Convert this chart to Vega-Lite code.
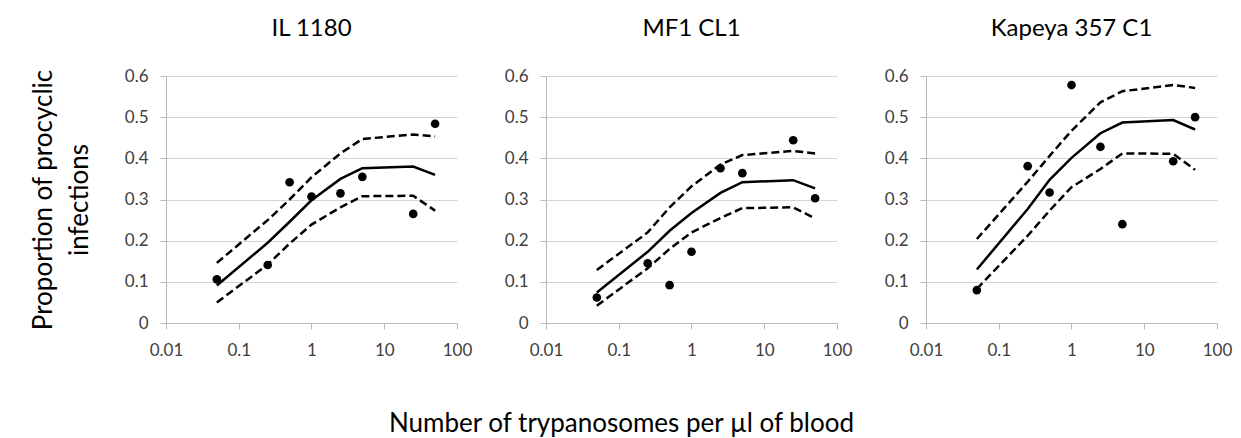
{
  "$schema": "https://vega.github.io/schema/vega-lite/v6.json",
  "padding": {"left": 30, "top": 17, "right": 10, "bottom": 2},
  "background": "white",
  "data": {
    "values": [
      {"strain": "IL 1180", "dose": 0.05, "fit": 0.091, "lo": 0.050, "hi": 0.146, "obs": 0.106},
      {"strain": "IL 1180", "dose": 0.25, "fit": 0.195, "lo": 0.142, "hi": 0.250, "obs": 0.141},
      {"strain": "IL 1180", "dose": 0.5, "fit": 0.246, "lo": 0.193, "hi": 0.300, "obs": 0.342},
      {"strain": "IL 1180", "dose": 1, "fit": 0.298, "lo": 0.239, "hi": 0.354, "obs": 0.307},
      {"strain": "IL 1180", "dose": 2.5, "fit": 0.350, "lo": 0.281, "hi": 0.412, "obs": 0.315},
      {"strain": "IL 1180", "dose": 5, "fit": 0.376, "lo": 0.308, "hi": 0.447, "obs": 0.355},
      {"strain": "IL 1180", "dose": 25, "fit": 0.380, "lo": 0.309, "hi": 0.458, "obs": 0.265},
      {"strain": "IL 1180", "dose": 50, "fit": 0.360, "lo": 0.273, "hi": 0.453, "obs": 0.484},
      {"strain": "MF1 CL1", "dose": 0.05, "fit": 0.074, "lo": 0.042, "hi": 0.129, "obs": 0.062},
      {"strain": "MF1 CL1", "dose": 0.25, "fit": 0.173, "lo": 0.133, "hi": 0.220, "obs": 0.145},
      {"strain": "MF1 CL1", "dose": 0.5, "fit": 0.224, "lo": 0.180, "hi": 0.281, "obs": 0.092},
      {"strain": "MF1 CL1", "dose": 1, "fit": 0.267, "lo": 0.220, "hi": 0.332, "obs": 0.173},
      {"strain": "MF1 CL1", "dose": 2.5, "fit": 0.316, "lo": 0.255, "hi": 0.385, "obs": 0.376},
      {"strain": "MF1 CL1", "dose": 5, "fit": 0.342, "lo": 0.279, "hi": 0.408, "obs": 0.364},
      {"strain": "MF1 CL1", "dose": 25, "fit": 0.347, "lo": 0.281, "hi": 0.418, "obs": 0.444},
      {"strain": "MF1 CL1", "dose": 50, "fit": 0.327, "lo": 0.254, "hi": 0.412, "obs": 0.303},
      {"strain": "Kapeya 357 C1", "dose": 0.05, "fit": 0.130, "lo": 0.083, "hi": 0.204, "obs": 0.080},
      {"strain": "Kapeya 357 C1", "dose": 0.25, "fit": 0.277, "lo": 0.212, "hi": 0.343, "obs": 0.381},
      {"strain": "Kapeya 357 C1", "dose": 0.5, "fit": 0.348, "lo": 0.273, "hi": 0.406, "obs": 0.317},
      {"strain": "Kapeya 357 C1", "dose": 1, "fit": 0.401, "lo": 0.330, "hi": 0.467, "obs": 0.578},
      {"strain": "Kapeya 357 C1", "dose": 2.5, "fit": 0.461, "lo": 0.374, "hi": 0.536, "obs": 0.428},
      {"strain": "Kapeya 357 C1", "dose": 5, "fit": 0.487, "lo": 0.412, "hi": 0.563, "obs": 0.240},
      {"strain": "Kapeya 357 C1", "dose": 25, "fit": 0.493, "lo": 0.411, "hi": 0.578, "obs": 0.393},
      {"strain": "Kapeya 357 C1", "dose": 50, "fit": 0.470, "lo": 0.372, "hi": 0.571, "obs": 0.500}
    ]
  },
  "spacing": 89,
  "bounds": "flush",
  "hconcat": [
    {
      "title": "IL 1180",
      "width": 291,
      "height": 247,
      "transform": [{"filter": "datum.strain === 'IL 1180'"}],
      "encoding": {
        "x": {"field": "dose", "type": "quantitative", "scale": {"type": "log", "domain": [0.01, 100]}, "axis": {"values": [0.01, 0.1, 1, 10, 100], "format": "~g", "title": null}}
      },
      "layer": [
        {"mark": {"type": "line", "color": "black", "strokeWidth": 2.5, "strokeDash": [8, 4]}, "encoding": {"y": {"field": "hi", "type": "quantitative", "scale": {"domain": [0, 0.6]}, "axis": {"values": [0, 0.1, 0.2, 0.3, 0.4, 0.5, 0.6], "format": "~g", "title": ["Proportion of procyclic", "infections"], "titleLineHeight": 36, "titlePadding": 32}}}},
        {"mark": {"type": "line", "color": "black", "strokeWidth": 2.5, "strokeDash": [8, 4]}, "encoding": {"y": {"field": "lo", "type": "quantitative"}}},
        {"mark": {"type": "line", "color": "black", "strokeWidth": 2.5}, "encoding": {"y": {"field": "fit", "type": "quantitative"}}},
        {"mark": {"type": "point", "filled": true, "color": "black", "opacity": 1, "size": 75}, "encoding": {"y": {"field": "obs", "type": "quantitative"}}}
      ]
    },
    {
      "title": "MF1 CL1",
      "width": 291,
      "height": 247,
      "transform": [{"filter": "datum.strain === 'MF1 CL1'"}],
      "encoding": {
        "x": {"field": "dose", "type": "quantitative", "scale": {"type": "log", "domain": [0.01, 100]}, "axis": {"values": [0.01, 0.1, 1, 10, 100], "format": "~g", "title": "Number of trypanosomes per µl of blood", "titlePadding": 52, "titleX": 75, "titleAlign": "center", "titleAnchor": null}}
      },
      "layer": [
        {"mark": {"type": "line", "color": "black", "strokeWidth": 2.5, "strokeDash": [8, 4]}, "encoding": {"y": {"field": "hi", "type": "quantitative", "scale": {"domain": [0, 0.6]}, "axis": {"values": [0, 0.1, 0.2, 0.3, 0.4, 0.5, 0.6], "format": "~g", "title": null}}}},
        {"mark": {"type": "line", "color": "black", "strokeWidth": 2.5, "strokeDash": [8, 4]}, "encoding": {"y": {"field": "lo", "type": "quantitative"}}},
        {"mark": {"type": "line", "color": "black", "strokeWidth": 2.5}, "encoding": {"y": {"field": "fit", "type": "quantitative"}}},
        {"mark": {"type": "point", "filled": true, "color": "black", "opacity": 1, "size": 75}, "encoding": {"y": {"field": "obs", "type": "quantitative"}}}
      ]
    },
    {
      "title": "Kapeya 357 C1",
      "width": 291,
      "height": 247,
      "transform": [{"filter": "datum.strain === 'Kapeya 357 C1'"}],
      "encoding": {
        "x": {"field": "dose", "type": "quantitative", "scale": {"type": "log", "domain": [0.01, 100]}, "axis": {"values": [0.01, 0.1, 1, 10, 100], "format": "~g", "title": null}}
      },
      "layer": [
        {"mark": {"type": "line", "color": "black", "strokeWidth": 2.5, "strokeDash": [8, 4]}, "encoding": {"y": {"field": "hi", "type": "quantitative", "scale": {"domain": [0, 0.6]}, "axis": {"values": [0, 0.1, 0.2, 0.3, 0.4, 0.5, 0.6], "format": "~g", "title": null}}}},
        {"mark": {"type": "line", "color": "black", "strokeWidth": 2.5, "strokeDash": [8, 4]}, "encoding": {"y": {"field": "lo", "type": "quantitative"}}},
        {"mark": {"type": "line", "color": "black", "strokeWidth": 2.5}, "encoding": {"y": {"field": "fit", "type": "quantitative"}}},
        {"mark": {"type": "point", "filled": true, "color": "black", "opacity": 1, "size": 75}, "encoding": {"y": {"field": "obs", "type": "quantitative"}}}
      ]
    }
  ],
  "config": {
    "font": "Lato",
    "view": {"stroke": null},
    "axis": {
      "labelFont": "Lato", "labelFontSize": 17, "labelColor": "#404040",
      "domainColor": "#b8b8b8", "tickColor": "#b8b8b8", "gridColor": "#d4d4d4",
      "tickSize": 6,
      "titleFont": "Lato", "titleFontWeight": "normal", "titleColor": "#000000", "titleFontSize": 26,
      "labelFlush": false, "labelOverlap": false
    },
    "axisX": {"grid": false, "labelPadding": 13},
    "axisY": {"grid": true, "labelPadding": 12},
    "title": {"font": "Lato", "fontSize": 24, "fontWeight": "normal", "color": "#000000", "anchor": "middle", "offset": 26}
  }
}
